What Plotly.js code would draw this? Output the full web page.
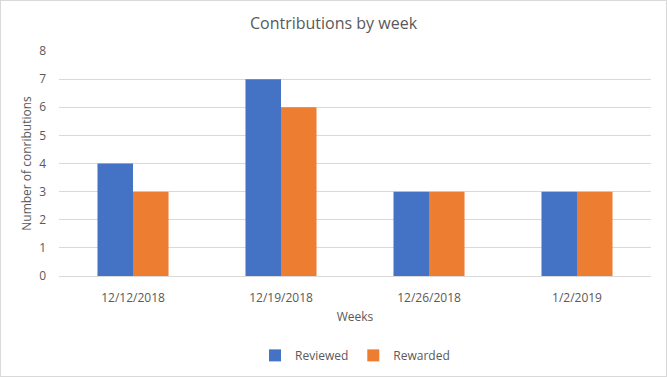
<!DOCTYPE html>
<html><head><meta charset="utf-8">
<script src="https://cdn.plot.ly/plotly-3.0.1.min.js"></script>
<style>
html,body{margin:0;padding:0;background:#fff;}
#wrap{width:667px;height:377px;box-sizing:border-box;border:1px solid #d9d9d9;}
#chart{width:665px;height:375px;}
</style></head>
<body><div id="wrap"><div id="chart"></div></div>
<script>
const weeks = ["12/12/2018", "12/19/2018", "12/26/2018", "1/2/2019"];
const reviewed = [4, 7, 3, 3];
const rewarded = [3, 6, 3, 3];
const tickVals = [0, 1, 2, 3, 4, 5, 6, 7, 8];

const font = "Open Sans, Noto Sans, sans-serif";
const data = [
  {type: "bar", name: "Reviewed", x: weeks, y: reviewed, marker: {color: "#4472c4"}, hoverinfo: "none"},
  {type: "bar", name: "Rewarded", x: weeks, y: rewarded, marker: {color: "#ed7d31"}, hoverinfo: "none"}
];
const layout = {
  width: 665, height: 375,
  margin: {l: 58, r: 15, t: 50, b: 100},
  paper_bgcolor: "#fff", plot_bgcolor: "#fff",
  font: {family: font, color: "#595959", size: 12},
  title: {text: "Contributions by week", font: {size: 16, color: "#595959", family: font}, x: 0.5, xanchor: "center", y: 0.94, yanchor: "middle"},
  barmode: "group", bargap: 0.52, bargroupgap: 0,
  showlegend: true,
  legend: {orientation: "h", xref: "paper", yref: "container", x: 0.5, xanchor: "center", y: 0.055, yanchor: "middle", font: {size: 12, color: "#595959"}, itemwidth: 30, traceorder: "normal"},
  xaxis: {
    type: "category", showgrid: false, showline: true, linecolor: "#d9d9d9", ticks: "",
    automargin: false,
    ticklabelstandoff: 11,
    tickfont: {size: 12, color: "#595959"},
    title: {text: "Weeks", font: {size: 12, color: "#595959"}, standoff: 7}
  },
  yaxis: {
    range: [0, 8], tickvals: tickVals, showgrid: true, gridcolor: "#d9d9d9", zeroline: false,
    automargin: false,
    ticklabelstandoff: 12,
    showline: false, ticks: "", ticklen: 0, tickfont: {size: 12, color: "#595959"},
    title: {text: "Number of conributions", font: {size: 12, color: "#595959"}, standoff: 4}
  }
};
Plotly.newPlot("chart", data, layout, {displayModeBar: false, staticPlot: true});
</script></body></html>
